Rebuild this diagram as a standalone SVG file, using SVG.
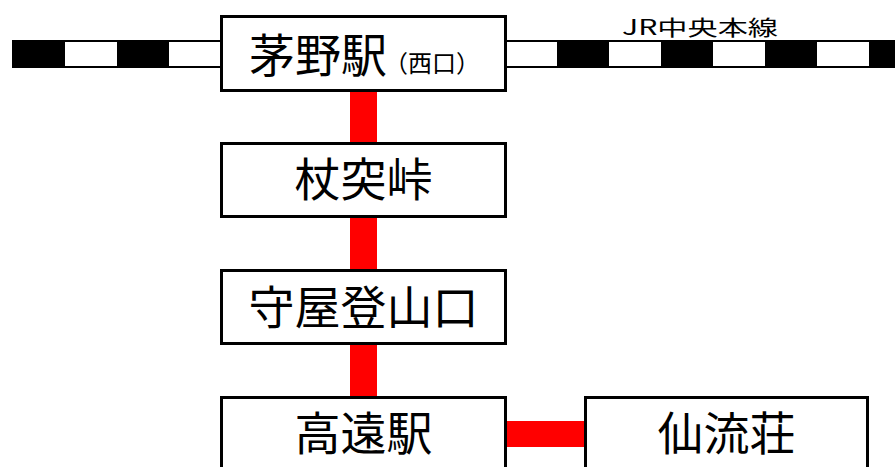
<svg xmlns="http://www.w3.org/2000/svg" width="895" height="467" viewBox="0 0 895 467">
<style>
.box{fill:#fff;stroke:#000;stroke-width:3}
.lbl{font-family:"Noto Sans CJK JP","Noto Sans",sans-serif;font-size:46px;fill:#000;text-anchor:middle}
.start{text-anchor:start}
.small{font-size:24px}
.rail{fill:#fff;stroke:#000;stroke-width:2}
.blk{fill:#000}
.red{fill:#ff0000}
</style>
<rect width="895" height="467" fill="#fff"/>
<g id="rail">
<rect class="rail" x="13" y="41" width="208" height="26"/>
<rect class="blk" x="13" y="40" width="52" height="27"/>
<rect class="blk" x="117" y="40" width="52" height="27"/>
<rect class="rail" x="506" y="41" width="392" height="26"/>
<rect class="blk" x="557" y="40" width="52" height="27"/>
<rect class="blk" x="661" y="40" width="52" height="27"/>
<rect class="blk" x="765" y="40" width="52" height="27"/>
<rect class="blk" x="869" y="40" width="26" height="27"/>
<text x="622" y="35" font-family="Noto Sans CJK JP,Noto Sans,sans-serif" font-size="21" textLength="156" lengthAdjust="spacingAndGlyphs">JR中央本線</text>
</g>
<g id="connectors">
<rect class="red" x="350" y="91" width="27" height="53"/>
<rect class="red" x="350" y="218" width="27" height="53"/>
<rect class="red" x="350" y="345" width="27" height="53"/>
<rect class="red" x="506" y="421" width="79" height="26"/>
</g>
<g id="chino">
<rect class="box" x="221.5" y="16.5" width="284" height="74"/>
<text class="lbl start" x="249" y="71.5">茅野駅<tspan class="small" dx="-3">（西口）</tspan></text>
</g>
<g id="tsuetsuki">
<rect class="box" x="221.5" y="143.5" width="284" height="73"/>
<text class="lbl" x="363.5" y="196">杖突峠</text>
</g>
<g id="moriya">
<rect class="box" x="221.5" y="270.5" width="284" height="73"/>
<text class="lbl" x="363.5" y="323.5">守屋登山口</text>
</g>
<g id="takato">
<rect class="box" x="221.5" y="397.5" width="284" height="100"/>
<text class="lbl" x="363.5" y="450">高遠駅</text>
</g>
<g id="senryuso">
<rect class="box" x="585.5" y="397.5" width="282" height="100"/>
<text class="lbl" x="726.5" y="450">仙流荘</text>
</g>
</svg>
